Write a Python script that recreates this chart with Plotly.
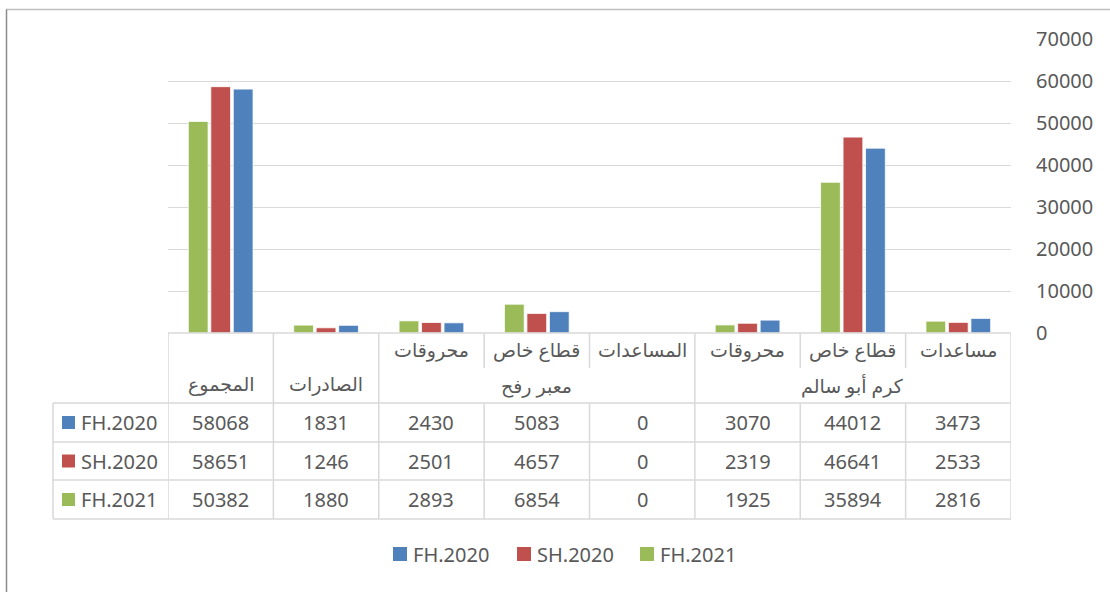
import plotly.graph_objects as go

# ---------------- data ----------------
subcats = ["مساعدات", "قطاع خاص", "محروقات", "المساعدات", "قطاع خاص", "محروقات", "الصادرات", "المجموع"]
groups = ["كرم أبو سالم", "كرم أبو سالم", "كرم أبو سالم", "معبر رفح", "معبر رفح", "معبر رفح", None, None]
series_names = ["FH.2020", "SH.2020", "FH.2021"]
fh2020 = [3473, 44012, 3070, 0, 5083, 2430, 1831, 58068]
sh2020 = [2533, 46641, 2319, 0, 4657, 2501, 1246, 58651]
fh2021 = [2816, 35894, 1925, 0, 6854, 2893, 1880, 50382]
series_values = [fh2020, sh2020, fh2021]
colors = ["#4F81BD", "#C0504D", "#9BBB59"]
y_ticks = [0, 10000, 20000, 30000, 40000, 50000, 60000, 70000]

# ---------------- layout geometry (pixels) ----------------
W, H = 1110, 592
L, R, T, B = 168, 1011, 39, 333  # plot area
TXT = "#595959"
GRID = "#D9D9D9"
FONT = "Noto Sans, DejaVu Sans, sans-serif"

def pxx(px):
    return (px - L) / (R - L)

def pxy(py):
    return (B - py) / (B - T)

n = len(subcats)
idx = list(range(n))

fig = go.Figure()
for name, vals, col in zip(series_names, series_values, colors):
    fig.add_trace(go.Bar(
        x=idx, y=vals, name=name, marker=dict(color=col, line=dict(color="white", width=0.8)),
        showlegend=False, hoverinfo="y+name",
    ))

shapes = []
annotations = []

# table geometry
row_top = 333
row_split = 368
data_rows = [403, 442, 480, 519]
left_px = 53

def line(x0, y0, x1, y1, xref="x", color=GRID, width=1.5):
    shapes.append(dict(type="line", xref=xref, yref="paper", x0=x0, x1=x1,
                       y0=pxy(y0), y1=pxy(y1), line=dict(color=color, width=width)))

def label(x, y, text, xref="x", size=20, xanchor="center"):
    annotations.append(dict(x=x, y=y, xref=xref, yref="paper", text=text, showarrow=False,
                            xanchor=xanchor, yanchor="middle",
                            font=dict(size=size, color=TXT, family=FONT)))

# horizontal lines of the table
for yy in data_rows:
    shapes.append(dict(type="line", xref="paper", yref="paper", x0=pxx(left_px), x1=1,
                       y0=pxy(yy), y1=pxy(yy), line=dict(color=GRID, width=1.5)))
shapes.append(dict(type="line", xref="paper", yref="paper", x0=0, x1=1,
                   y0=pxy(row_top), y1=pxy(row_top), line=dict(color=GRID, width=1.5)))
# left border of legend column
shapes.append(dict(type="line", xref="paper", yref="paper", x0=pxx(left_px), x1=pxx(left_px),
                   y0=pxy(data_rows[0]), y1=pxy(data_rows[-1]), line=dict(color=GRID, width=1.5)))

# vertical lines between columns
for b in range(n + 1):
    xb = b - 0.5
    left_g = groups[b - 1] if b - 1 >= 0 else "__edge"
    right_g = groups[b] if b < n else "__edge"
    full = (left_g != right_g) or left_g is None
    if full:
        line(xb, row_top, xb, data_rows[-1])
    else:
        line(xb, row_top, xb, row_split)
        line(xb, data_rows[0], xb, data_rows[-1])

# header texts
for i, (s, g) in enumerate(zip(subcats, groups)):
    if g is None:
        label(i, pxy(384), s, size=19)
    else:
        label(i, pxy(350), s, size=19)
seen = []
for g in groups:
    if g is not None and g not in seen:
        seen.append(g)
for g in seen:
    members = [i for i, gg in enumerate(groups) if gg == g]
    label(sum(members) / len(members), pxy(386), g, size=19)

# data rows
for r, (name, vals, col) in enumerate(zip(series_names, series_values, colors)):
    yc = (data_rows[r] + data_rows[r + 1]) / 2
    for i, v in enumerate(vals):
        label(i, pxy(yc), str(v))
    shapes.append(dict(type="rect", xref="paper", yref="paper", x0=pxx(62), x1=pxx(75),
                       y0=pxy(yc + 6.5), y1=pxy(yc - 6.5), fillcolor=col, line=dict(width=0)))
    label(pxx(79), pxy(yc), name, xref="paper", xanchor="left")

# bottom legend
legend_x = [393, 517, 640]
for name, col, lx in zip(series_names, colors, legend_x):
    shapes.append(dict(type="rect", xref="paper", yref="paper", x0=pxx(lx), x1=pxx(lx + 14),
                       y0=pxy(561), y1=pxy(547), fillcolor=col, line=dict(width=0)))
    label(pxx(lx + 18), pxy(554), name, xref="paper", xanchor="left")

# outer chart border (top and left)
shapes.append(dict(type="line", xref="paper", yref="paper", x0=pxx(6), x1=pxx(W + 5),
                   y0=pxy(9.5), y1=pxy(9.5), line=dict(color="#BFBFBF", width=1.5)))
shapes.append(dict(type="line", xref="paper", yref="paper", x0=pxx(6.5), x1=pxx(6.5),
                   y0=pxy(9.5), y1=pxy(H + 5), line=dict(color="#8C8C8C", width=1.5)))

fig.update_layout(
    width=W, height=H,
    margin=dict(l=L, r=W - R, t=T, b=H - B, autoexpand=False),
    paper_bgcolor="white", plot_bgcolor="white",
    barmode="group", bargap=0.36, bargroupgap=0.12,
    shapes=shapes, annotations=annotations,
    showlegend=False,
    font=dict(family=FONT, color=TXT),
)
fig.update_xaxes(range=[n - 0.5, -0.5], showticklabels=False, showgrid=False, zeroline=False,
                 showline=False, ticks="")
fig.update_yaxes(side="right", range=[0, 70000], tickvals=y_ticks, ticktext=[str(v) for v in y_ticks],
                 showgrid=True, gridcolor=GRID, gridwidth=1.3, zeroline=False, showline=False,
                 ticks="outside", ticklen=20, tickcolor="rgba(0,0,0,0)",
                 tickfont=dict(size=20, color=TXT, family=FONT))

fig.write_html("out.html")
